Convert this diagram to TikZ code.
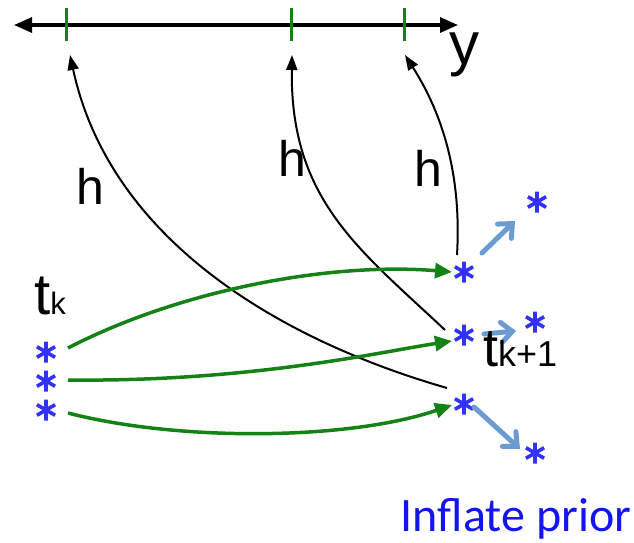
\documentclass[tikz,border=0pt]{standalone}
\usepackage{fontspec}
\setmainfont{Liberation Sans}
\newfontfamily\calib{Carlito}
\usetikzlibrary{arrows.meta,calc}
\definecolor{stargreen}{RGB}{20,130,20}
\definecolor{starblue}{RGB}{50,50,255}
\definecolor{inflblue}{RGB}{107,155,209}
\definecolor{textblue}{RGB}{20,20,240}
\tikzset{
  sample/.style={minimum size=22pt, inner sep=0pt, path picture={
      \coordinate (sc) at (path picture bounding box.center);
      \draw[starblue, line width=3.6pt]
        ($(sc)+(0,10.5)$) -- ($(sc)+(0,-10.5)$)
        ($(sc)+(9.1,5.25)$) -- ($(sc)+(-9.1,-5.25)$)
        ($(sc)+(-9.1,5.25)$) -- ($(sc)+(9.1,-5.25)$);
  }},
  axisline/.style={line width=3.2pt, {Triangle[length=18pt,width=15pt]}-{Triangle[length=18pt,width=15pt]}},
  tick/.style={stargreen, line width=3pt},
  hmap/.style={line width=2pt, -{Triangle[length=15pt,width=11pt]}},
  forecast/.style={stargreen, line width=3.5pt, -{Triangle[length=17pt,width=15pt]}},
  inflate/.style={inflblue, line width=5pt, line cap=round, -{Straight Barb[length=11pt,width=20pt,line cap=round]}},
  biglabel/.style={font=\fontsize{50}{54}\selectfont, inner sep=0pt},
}
\begin{document}
\begin{tikzpicture}[x=1pt,y=-1pt]
\useasboundingbox (0,0) rectangle (634,543);
% axis
\coordinate (axL) at (14,25);
\coordinate (axR) at (458,25);
\draw[axisline] (axL) -- (axR);
\coordinate (t1) at (66,25);
\coordinate (t2) at (291,25);
\coordinate (t3) at (404,25);
\foreach \t in {t1,t2,t3} \draw[tick] ($(\t)+(0,-17)$) -- ($(\t)+(0,16)$);
\node[biglabel, anchor=base west, font=\fontsize{60}{64}\selectfont] (ylab) at (449,64) {y};
% stars
\node[sample] (l1) at (46,352) {};
\node[sample] (l2) at (46,381) {};
\node[sample] (l3) at (46,410) {};
\node[sample] (r1) at (464,272) {};
\node[sample] (r2) at (464,335) {};
\node[sample] (r3) at (464,404) {};
\node[sample] (f1) at (537,202) {};
\node[sample] (f2) at (535,322) {};
\node[sample] (f3) at (535,453) {};
% tips of h arrows
\coordinate (h1) at (70,55);
\coordinate (h2) at (292,55);
\coordinate (h3) at (405,55);
% h mapping curves
\draw[hmap] ($(r3)+(-17,-16)$) .. controls (280,340) and (110,240) .. (h1);
\draw[hmap] ($(r2)+(-19,-5)$) .. controls (360,250) and (290,200) .. (h2);
\draw[hmap] ($(r1)+(-7,-17)$) .. controls (462,170) and (440,110) .. (h3);
% forecast arrows
\draw[forecast] ($(l1)+(22,-4)$) .. controls (180,290) and (330,262) .. ($(r1)+(-12,0)$);
\draw[forecast] ($(l2)+(22,-1)$) .. controls (250,382) and (380,352) .. ($(r2)+(-12,6)$);
\draw[forecast] ($(l3)+(22,3)$) .. controls (180,442) and (350,440) .. ($(r3)+(-12,1)$);
% inflate arrows
\draw[inflate] ($(r1)+(18,-19)$) -- ($(f1)+(-22,19)$);
\draw[inflate] ($(r2)+(20,-1)$) -- ($(f2)+(-19,9)$);
\draw[inflate] ($(r3)+(10,3)$) -- ($(f3)+(-15,-4)$);
% labels
\node[biglabel] (hl1) at (90,186) {h};
\node[biglabel] (hl2) at (292,158) {h};
\node[biglabel] (hl3) at (428,168) {h};
\node[biglabel, anchor=base west, font=\fontsize{58}{60}\selectfont] (tk) at (34,314) {t{\fontsize{31}{33}\selectfont k}};
\node[biglabel, anchor=base west, font=\fontsize{54}{56}\selectfont] (tk1) at (483,366) {t{\fontsize{36}{38}\selectfont k+1}};
\node[anchor=base, inner sep=0pt, text=textblue, font=\calib\fontsize{48}{50}\selectfont] (infl) at (516,531) {Inflate prior};
\end{tikzpicture}
\end{document}
